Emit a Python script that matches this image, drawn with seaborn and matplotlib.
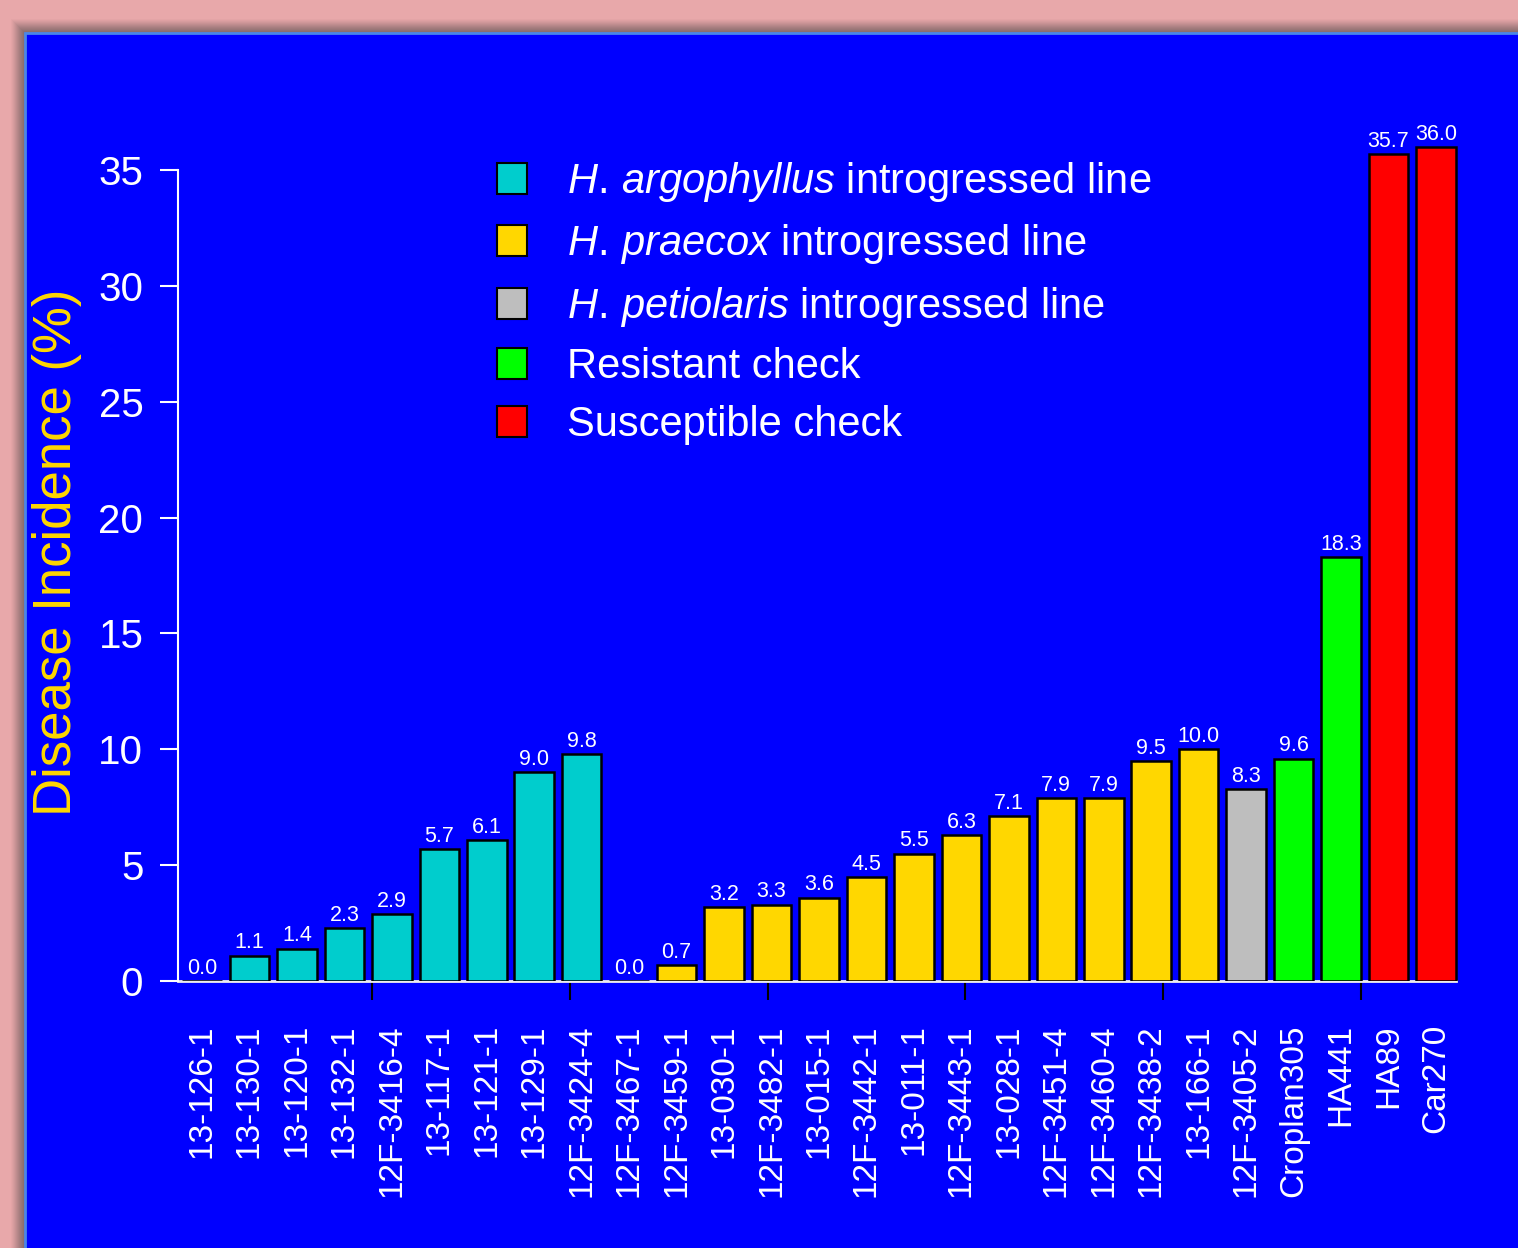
import numpy as np
import pandas as pd
import matplotlib
matplotlib.use("Agg")
import matplotlib.pyplot as plt
import seaborn as sns
from matplotlib.patches import Rectangle, Patch
from matplotlib import font_manager

# ---------------- data ----------------
argophyllus_lines = ["13-126-1", "13-130-1", "13-120-1", "13-132-1", "12F-3416-4",
                     "13-117-1", "13-121-1", "13-129-1", "12F-3424-4"]
argophyllus_vals = [0.0, 1.1, 1.4, 2.3, 2.9, 5.7, 6.1, 9.0, 9.8]

praecox_lines = ["12F-3467-1", "12F-3459-1", "13-030-1", "12F-3482-1", "13-015-1",
                 "12F-3442-1", "13-011-1", "12F-3443-1", "13-028-1", "12F-3451-4",
                 "12F-3460-4", "12F-3438-2", "13-166-1"]
praecox_vals = [0.0, 0.7, 3.2, 3.3, 3.6, 4.5, 5.5, 6.3, 7.1, 7.9, 7.9, 9.5, 10.0]

petiolaris_lines = ["12F-3405-2"]
petiolaris_vals = [8.3]

resistant_lines = ["Croplan305", "HA441"]
resistant_vals = [9.6, 18.3]

susceptible_lines = ["HA89", "Car270"]
susceptible_vals = [35.7, 36.0]

group_names = ["argophyllus", "praecox", "petiolaris", "resistant", "susceptible"]
group_colors = ["#00CDCD", "#FFD700", "#BEBEBE", "#00FF00", "#FF0000"]
yticks = [0, 5, 10, 15, 20, 25, 30, 35]

# ---------------- fonts ----------------
names = {f.name for f in font_manager.fontManager.ttflist}
NARROW = "Liberation Sans Narrow" if "Liberation Sans Narrow" in names else "Liberation Sans"
REG = "Liberation Sans"
is_narrow = NARROW != REG

sns.set_theme(style="white")
plt.rcParams["font.family"] = [REG, "DejaVu Sans"]
plt.rcParams["mathtext.fontset"] = "custom"
plt.rcParams["mathtext.it"] = NARROW + ":italic"
plt.rcParams["mathtext.rm"] = NARROW

rows = []
for g, ls, vs in zip(group_names,
                     [argophyllus_lines, praecox_lines, petiolaris_lines, resistant_lines, susceptible_lines],
                     [argophyllus_vals, praecox_vals, petiolaris_vals, resistant_vals, susceptible_vals]):
    for l, v in zip(ls, vs):
        rows.append({"line": l, "value": v, "group": g})
df = pd.DataFrame(rows)
order = list(df["line"])
n = len(order)

W, H = 1518, 1248
fig = plt.figure(figsize=(W / 100, H / 100), dpi=100)
fig.patch.set_facecolor("#E8A8AA")

# shadow + blue panel
px0, py0 = 25, 33
for k, a in zip(range(14, 0, -1), np.linspace(0.04, 0.14, 14)):
    fig.patches.append(Rectangle(((px0 - k) / W, 0), 1, (H - py0 + k) / H,
                                 transform=fig.transFigure, facecolor="#6a5a5a",
                                 alpha=a, edgecolor="none", zorder=-3))
fig.patches.append(Rectangle((px0 / W, -0.01), 1, (H - py0) / H + 0.01,
                             transform=fig.transFigure, facecolor="#0000FF",
                             edgecolor="#4A86E8", linewidth=2.0, zorder=-2))

ax_left = 178 / W
ax_bottom = (H - 981) / H
ymax = 38
ytop_px = 981 - ymax * (981 - 170) / 35
ax_h = (981 - ytop_px) / H
xlim = (-0.506, 26.6)
ax_w = (xlim[1] - xlim[0]) * 47.46 / W
ax = fig.add_axes([ax_left, ax_bottom, ax_w, ax_h])
ax.set_zorder(2)
ax.patch.set_visible(False)

sns.barplot(data=df, x="line", y="value", hue="group", order=order,
            hue_order=group_names, palette=group_colors, dodge=False,
            width=1 / 1.2, edgecolor="black", linewidth=1.8, saturation=1,
            legend=False, ax=ax, zorder=3)

val_fs = 17 if is_narrow else 15.5
for c in ax.containers:
    ax.bar_label(c, fmt="%.1f", padding=1.5, color="white", fontsize=val_fs,
                 family=[NARROW, "DejaVu Sans"])

ax.set_xlim(*xlim)
ax.set_ylim(0, ymax)
ax.set_xlabel("")
ax.set_ylabel("")

for s in ["top", "right"]:
    ax.spines[s].set_visible(False)
ax.spines["left"].set_color("white")
ax.spines["left"].set_linewidth(1.5)
ax.spines["left"].set_bounds(0, 35)
ax.spines["bottom"].set_color("#EEEEEE")
ax.spines["bottom"].set_linewidth(2)
ax.spines["bottom"].set_bounds(xlim[0], n - 1 + 0.5 / 1.2)
ax.spines["bottom"].set_zorder(2)

ax.set_yticks(yticks)
ax.set_yticklabels([str(v) for v in yticks], fontsize=(33 if is_narrow else 29),
                   color="white", family=[NARROW, "DejaVu Sans"])
ax.tick_params(axis="y", which="major", length=13, width=1.5, color="white",
               pad=12, left=True)

ax.set_xticks(range(n))
ax.set_xticklabels(order, rotation=90, fontsize=24, color="white", va="top", ha="center")
ax.tick_params(axis="x", which="major", length=0, pad=31, bottom=True)
# R-style axis ticks (at barplot coordinates 5,10,...,30)
minor = [(x - 0.7) / 1.2 for x in range(5, 31, 5)]
ax.set_xticks(minor, minor=True)
ax.tick_params(axis="x", which="minor", length=14, width=1.5, color="black",
               bottom=True, direction="out")
ax.grid(False)

fig.text(57 / W, 1 - 552 / H, "Disease Incidence (%)", rotation=90, ha="center",
         va="center", color="#FFD700", fontsize=38, family=REG)

labels = [r"$\mathit{H.\,argophyllus}$ introgressed line",
          r"$\mathit{H.\,praecox}$ introgressed line",
          r"$\mathit{H.\,petiolaris}$ introgressed line",
          "Resistant check",
          "Susceptible check"]
handles = [Patch(facecolor=c, edgecolor="black", linewidth=1.5) for c in group_colors]
leg_fs = 36 if is_narrow else 30
em = leg_fs * 100 / 72
leg = fig.legend(handles, labels, loc="upper left",
                 bbox_to_anchor=(497 / W, 1 - 160 / H), frameon=False,
                 prop={"family": NARROW, "size": leg_fs}, labelcolor="white",
                 handlelength=30 / em, handleheight=32 / em,
                 handletextpad=40 / em,
                 labelspacing=0.44, borderpad=0, borderaxespad=0)
leg.set_zorder(5)

fig.savefig("out.png", dpi=100, facecolor=fig.get_facecolor())
